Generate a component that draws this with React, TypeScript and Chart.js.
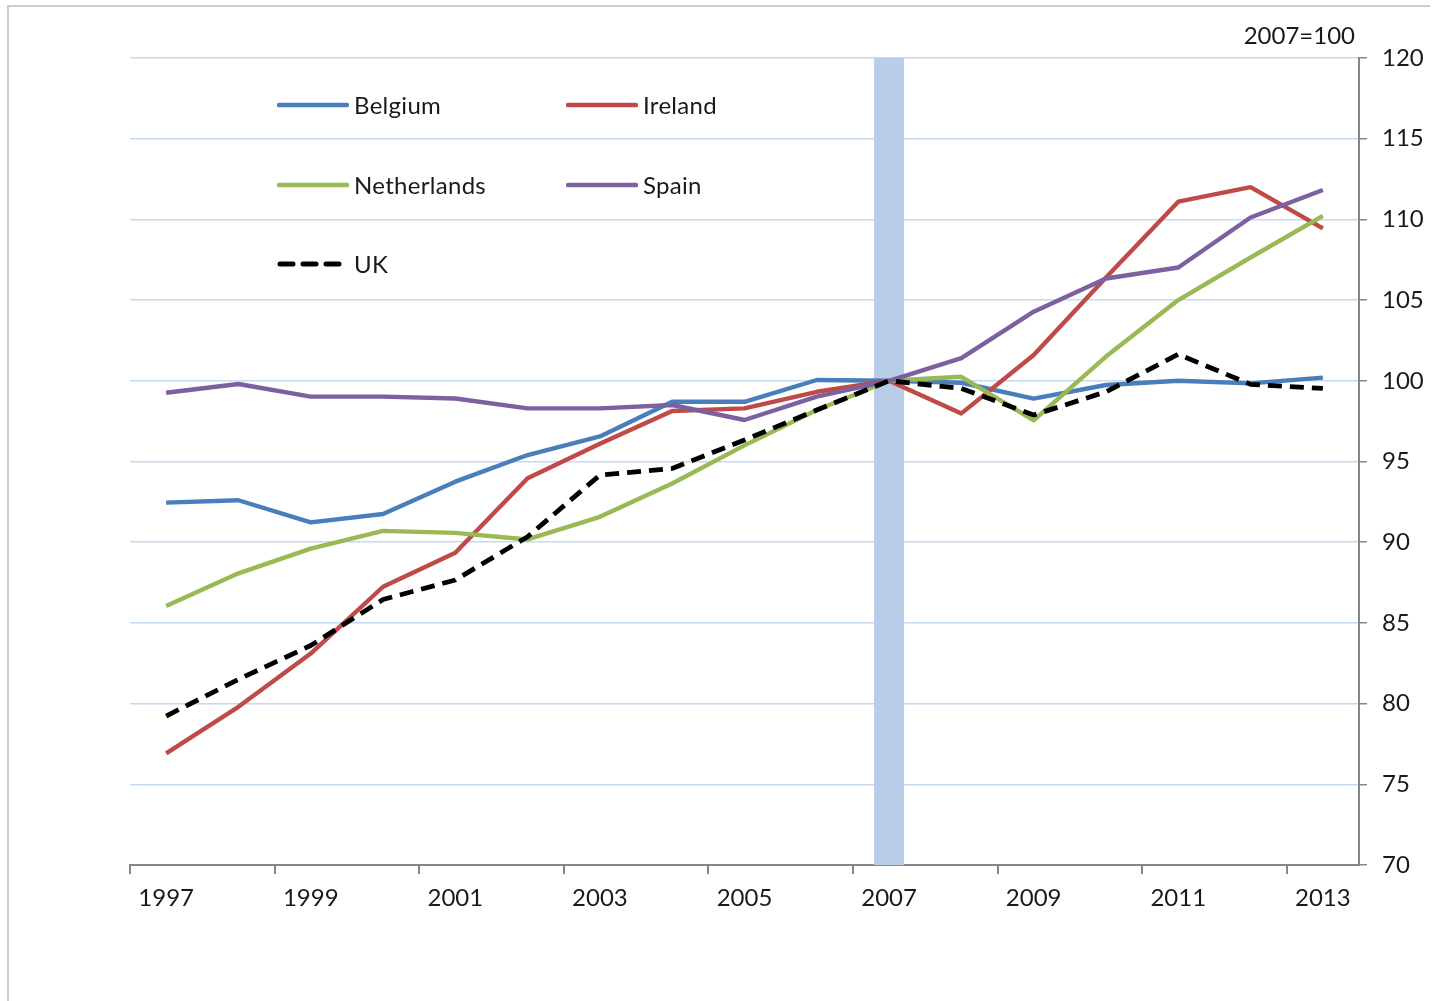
import React, { useEffect, useRef } from "react";
import { Chart, registerables } from "chart.js";

Chart.register(...registerables);

// ---- Data ----
const years = [
  "1997", "1998", "1999", "2000", "2001", "2002", "2003", "2004", "2005",
  "2006", "2007", "2008", "2009", "2010", "2011", "2012", "2013",
];
const belgium = [92.45, 92.6, 91.23, 91.75, 93.75, 95.4, 96.55, 98.7, 98.7, 100.05, 100, 99.88, 98.9, 99.74, 100.0, 99.84, 100.2];
const ireland = [76.92, 79.8, 83.1, 87.24, 89.35, 93.96, 96.1, 98.13, 98.29, 99.32, 100, 97.98, 101.6, 106.4, 111.1, 112.0, 109.44];
const netherlands = [86.05, 88.07, 89.6, 90.7, 90.58, 90.17, 91.57, 93.64, 96.0, 98.19, 100, 100.25, 97.55, 101.5, 105.0, 107.64, 110.22];
const spain = [99.26, 99.8, 99.02, 99.02, 98.9, 98.29, 98.29, 98.5, 97.57, 99.02, 100, 101.4, 104.28, 106.34, 107.02, 110.12, 111.82];
const uk = [79.23, 81.5, 83.6, 86.45, 87.66, 90.34, 94.16, 94.57, 96.33, 98.19, 100, 99.53, 97.88, 99.32, 101.64, 99.78, 99.53];

const highlightYear = "2007";
const yMin = 70;
const yMax = 120;
const yStep = 5;
const scaleNote = "2007=100";

const seriesNames = ["Belgium", "Ireland", "Netherlands", "Spain", "UK"];
const seriesColors = ["#4A7EBB", "#BE4B48", "#98B954", "#7D60A0", "#000000"];

const FONT = "Lato, 'Open Sans', sans-serif";
const FONT_SIZE = 24;
const TEXT = "#1a1a1a";
const AXIS = "#868686";

export default function App() {
  const ref = useRef<HTMLCanvasElement | null>(null);

  useEffect(() => {
    if (!ref.current) return;
    Chart.defaults.font.family = FONT;

    const band = years.map((y) => (y === highlightYear ? [yMin, yMax] : null));
    const seriesData = [belgium, ireland, netherlands, spain, uk];

    const notePlugin = {
      id: "scaleNote",
      afterDraw(chart: any) {
        const { ctx, chartArea } = chart;
        ctx.save();
        ctx.font = `${FONT_SIZE}px ${FONT}`;
        ctx.fillStyle = TEXT;
        ctx.textAlign = "right";
        ctx.textBaseline = "middle";
        ctx.fillText(scaleNote, chartArea.right - 4, chartArea.top - 22);
        ctx.restore();
      },
    };

    const chart = new Chart(ref.current, {
      type: "line",
      data: {
        labels: years,
        datasets: [
          {
            type: "bar",
            label: "band",
            data: band as any,
            backgroundColor: "#B9CDE8",
            borderWidth: 0,
            barPercentage: 0.415,
            categoryPercentage: 1,
            order: 10,
          } as any,
          ...seriesNames.map((name, i) => ({
            type: "line",
            label: name,
            data: seriesData[i],
            borderColor: seriesColors[i],
            backgroundColor: seriesColors[i],
            borderWidth: name === "UK" ? 4.8 : 4.4,
            borderDash: name === "UK" ? [14, 8] : [],
            borderJoinStyle: "round",
            pointRadius: 0,
            tension: 0,
            fill: false,
            order: seriesNames.length - i,
          })),
        ],
      },
      options: {
        animation: false,
        responsive: false,
        events: [],
        layout: { padding: { left: 130, top: 58, right: 0, bottom: 0 } },
        plugins: {
          legend: { display: false },
          tooltip: { enabled: false },
        },
        scales: {
          x: {
            type: "category",
            offset: true,
            grid: {
              offset: true,
              drawOnChartArea: false,
              tickLength: 9,
              lineWidth: 2,
              color: "rgba(0,0,0,0)",
              tickColor: (c: any) =>
                typeof c.index === "number" && c.index % 2 === 0 ? AXIS : "rgba(0,0,0,0)",
            },
            border: { display: true, color: AXIS, width: 2 },
            ticks: {
              autoSkip: false,
              maxRotation: 0,
              color: TEXT,
              font: { size: FONT_SIZE },
              padding: 10,
              callback: (_v: any, i: number) => (i % 2 === 0 ? years[i] : ""),
            },
            afterFit: (s: any) => {
              s.height = 136;
            },
          },
          y: {
            position: "right",
            min: yMin,
            max: yMax,
            grid: {
              color: "#C6D9F1",
              lineWidth: 1.5,
              tickColor: AXIS,
              tickLength: 8,
            },
            border: { display: true, color: AXIS, width: 2 },
            ticks: {
              stepSize: yStep,
              color: TEXT,
              font: { size: FONT_SIZE },
              padding: 15,
            },
            afterFit: (s: any) => {
              s.width = 82;
            },
          },
        },
      } as any,
      plugins: [notePlugin],
    });

    return () => chart.destroy();
  }, []);

  const legendCols = [277, 566];
  const legendRows = [105, 185, 264];

  return (
    <div style={{ position: "absolute", left: 0, top: 0, width: 1441, height: 1001, overflow: "hidden", background: "#fff" }}>
      <div
        style={{
          position: "absolute",
          left: 7,
          top: 5,
          width: 1423,
          height: 996,
          borderTop: "2px solid #cccccc",
          borderLeft: "2px solid #cccccc",
          boxSizing: "border-box",
        }}
      />
      <canvas
        ref={ref}
        width={1441}
        height={1001}
        style={{ position: "absolute", left: 0, top: 0, width: 1441, height: 1001, display: "block" }}
      />
      {seriesNames.map((name, i) => {
        const left = legendCols[i % 2];
        const top = legendRows[Math.floor(i / 2)];
        const dashed = name === "UK";
        return (
          <div
            key={name}
            style={{
              position: "absolute",
              left,
              top: top - 15,
              height: 30,
              display: "flex",
              alignItems: "center",
              fontFamily: FONT,
              fontSize: FONT_SIZE,
              color: TEXT,
              letterSpacing: "0.3px",
              whiteSpace: "nowrap",
            }}
          >
            <svg width={72} height={10} style={{ display: "block", marginRight: 5 }}>
              <line
                x1={dashed ? 3 : 2}
                y1={5}
                x2={dashed ? 66 : 70}
                y2={5}
                stroke={seriesColors[i]}
                strokeWidth={dashed ? 5 : 4.5}
                strokeLinecap="round"
                strokeDasharray={dashed ? "13 10" : undefined}
              />
            </svg>
            <span style={{ lineHeight: "30px" }}>{name}</span>
          </div>
        );
      })}
    </div>
  );
}
